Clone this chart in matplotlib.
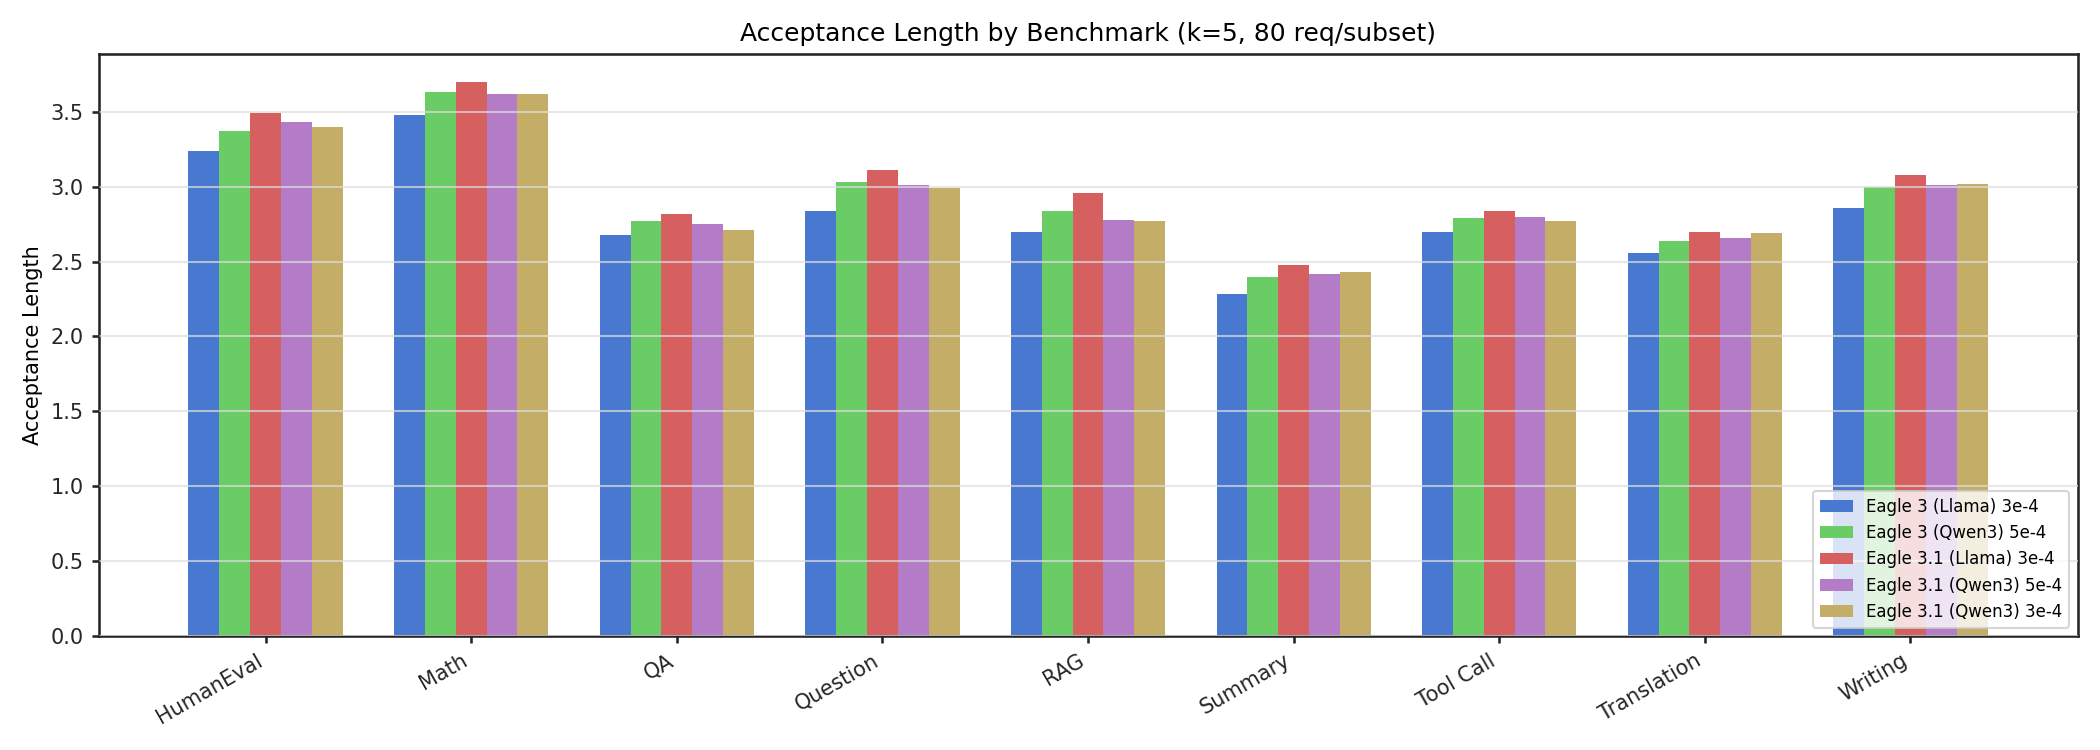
import matplotlib
matplotlib.use("Agg")
import matplotlib.pyplot as plt
import numpy as np

benchmarks = ["HumanEval", "Math", "QA", "Question", "RAG", "Summary",
              "Tool Call", "Translation", "Writing"]
series_names = ["Eagle 3 (Llama) 3e-4", "Eagle 3 (Qwen3) 5e-4",
                "Eagle 3.1 (Llama) 3e-4", "Eagle 3.1 (Qwen3) 5e-4",
                "Eagle 3.1 (Qwen3) 3e-4"]
eagle3_llama_3e4 = [3.24, 3.48, 2.68, 2.84, 2.70, 2.28, 2.70, 2.56, 2.86]
eagle3_qwen3_5e4 = [3.37, 3.63, 2.77, 3.03, 2.84, 2.40, 2.79, 2.64, 3.00]
eagle31_llama_3e4 = [3.49, 3.70, 2.82, 3.11, 2.96, 2.48, 2.84, 2.70, 3.08]
eagle31_qwen3_5e4 = [3.43, 3.62, 2.75, 3.01, 2.78, 2.42, 2.80, 2.66, 3.01]
eagle31_qwen3_3e4 = [3.40, 3.62, 2.71, 2.99, 2.77, 2.43, 2.77, 2.69, 3.02]
series_values = [eagle3_llama_3e4, eagle3_qwen3_5e4, eagle31_llama_3e4,
                 eagle31_qwen3_5e4, eagle31_qwen3_3e4]
colors = ["#4878D0", "#6ACC64", "#D65F5F", "#B47CC7", "#C4AD66"]

dark = "#262626"
plt.rcParams.update({
    "font.family": ["DejaVu Sans"],
    "axes.edgecolor": dark,
    "axes.linewidth": 1.25,
    "xtick.major.width": 1.25,
    "ytick.major.width": 1.25,
    "xtick.color": dark,
    "ytick.color": dark,
    "text.color": "black",
})

fig, ax = plt.subplots(figsize=(14, 5), dpi=150)
x = np.arange(len(benchmarks))
w = 0.15
for i, (name, vals, c) in enumerate(zip(series_names, series_values, colors)):
    ax.bar(x + (i - 2) * w, vals, w, label=name, color=c)

ax.set_xticks(x)
ax.set_xticklabels(benchmarks, rotation=30, ha="right", fontsize=10)
ax.tick_params(axis="y", labelsize=10)
ax.set_ylabel("Acceptance Length", fontsize=10)
ax.set_title("Acceptance Length by Benchmark (k=5, 80 req/subset)", fontsize=12)
ax.yaxis.grid(True, color="#dddddd", alpha=0.7, linewidth=1.0)
ax.set_axisbelow(False)
ax.legend(loc="lower right", fontsize=8, framealpha=0.8)

fig.tight_layout()
fig.savefig("out.png", dpi=150)
